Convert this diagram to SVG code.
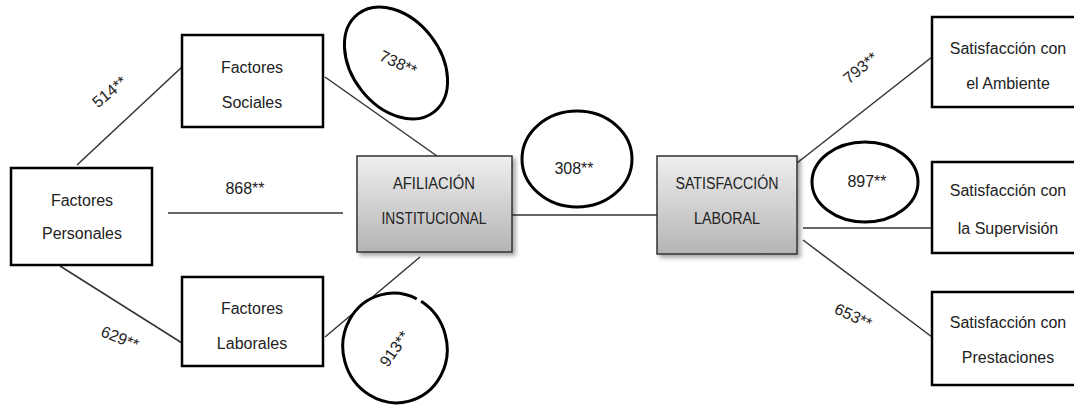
<svg xmlns="http://www.w3.org/2000/svg" width="1074" height="405" viewBox="0 0 1074 405">
<style>
text{font-family:"Liberation Sans",Arial,sans-serif;font-size:16px;fill:#222;text-anchor:middle}
.box{fill:#fff;stroke:#000;stroke-width:2.5}
.gbox{fill:url(#g);stroke:#333;stroke-width:1.5}
.ell{fill:#fff;stroke:#000;stroke-width:3}
.ln{stroke:#333;stroke-width:1.5;fill:none}
.lbl{font-size:16px}
</style>
<defs>
<linearGradient id="g" x1="0" y1="0" x2="0" y2="1">
<stop offset="0" stop-color="#efefef"/>
<stop offset="1" stop-color="#b4b4b4"/>
</linearGradient>
<filter id="sh" x="-10%" y="-10%" width="130%" height="130%">
<feDropShadow dx="3" dy="3" stdDeviation="2" flood-color="#000" flood-opacity="0.35"/>
</filter>
</defs>
<rect width="1074" height="405" fill="#fff"/>
<g id="connectors">
<line class="ln" x1="77" y1="165" x2="182" y2="67"/>
<line class="ln" x1="325" y1="77" x2="437" y2="156"/>
<line class="ln" x1="168" y1="213" x2="343" y2="213"/>
<line class="ln" x1="60" y1="266" x2="182" y2="343"/>
<line class="ln" x1="325" y1="337" x2="420" y2="257"/>
<line class="ln" x1="512" y1="215" x2="657" y2="215"/>
<line class="ln" x1="797" y1="163" x2="932" y2="57"/>
<line class="ln" x1="803" y1="228" x2="932" y2="228"/>
<line class="ln" x1="803" y1="240" x2="932" y2="337"/>
<text class="lbl" transform="translate(113,96) rotate(-40)">514**</text>
<text class="lbl" x="245" y="194">868**</text>
<text class="lbl" transform="translate(118,343) rotate(22)">629**</text>
<text class="lbl" transform="translate(864,72) rotate(-40)">793**</text>
<text class="lbl" transform="translate(851,321) rotate(25)">653**</text>
</g>
<g id="e738">
<ellipse class="ell" cx="396" cy="63" rx="62" ry="44" transform="rotate(52 396 63)"/>
<text transform="translate(396,68) rotate(25)">738**</text>
</g>
<g id="e913">
<ellipse class="ell" cx="395" cy="348" rx="52" ry="55" transform="rotate(-15 395 348)" pathLength="100" stroke-dasharray="86 1.5 100"/>
<text transform="translate(399,352) rotate(-55)">913**</text>
</g>
<g id="e308">
<ellipse class="ell" cx="577" cy="159" rx="55" ry="48"/>
<text x="574" y="174">308**</text>
</g>
<g id="e897">
<ellipse class="ell" cx="865" cy="182" rx="53" ry="40"/>
<text x="867" y="187">897**</text>
</g>
<g id="personales">
<rect class="box" x="11" y="168" width="141" height="97"/>
<text x="82" y="206">Factores</text>
<text x="82" y="239">Personales</text>
</g>
<g id="sociales">
<rect class="box" x="182" y="35" width="141" height="92"/>
<text x="252" y="73">Factores</text>
<text x="252" y="108">Sociales</text>
</g>
<g id="laborales">
<rect class="box" x="182" y="277" width="141" height="89"/>
<text x="252" y="314">Factores</text>
<text x="252" y="349">Laborales</text>
</g>
<g id="afiliacion">
<rect class="gbox" x="357" y="156" width="155" height="96" filter="url(#sh)"/>
<text x="434" y="189" textLength="82" lengthAdjust="spacingAndGlyphs">AFILIACIÓN</text>
<text x="434" y="224" textLength="105" lengthAdjust="spacingAndGlyphs">INSTITUCIONAL</text>
</g>
<g id="satisfaccion">
<rect class="gbox" x="657" y="156" width="140" height="98" filter="url(#sh)"/>
<text x="727" y="189" textLength="103" lengthAdjust="spacingAndGlyphs">SATISFACCIÓN</text>
<text x="727" y="224" textLength="66" lengthAdjust="spacingAndGlyphs">LABORAL</text>
</g>
<g id="ambiente">
<rect class="box" x="932" y="17" width="150" height="90"/>
<text x="1008" y="54">Satisfacción con</text>
<text x="1008" y="89">el Ambiente</text>
</g>
<g id="supervision">
<rect class="box" x="932" y="162" width="150" height="91"/>
<text x="1008" y="196">Satisfacción con</text>
<text x="1008" y="234">la Supervisión</text>
</g>
<g id="prestaciones">
<rect class="box" x="932" y="292" width="150" height="93"/>
<text x="1008" y="328">Satisfacción con</text>
<text x="1008" y="363">Prestaciones</text>
</g>
</svg>
